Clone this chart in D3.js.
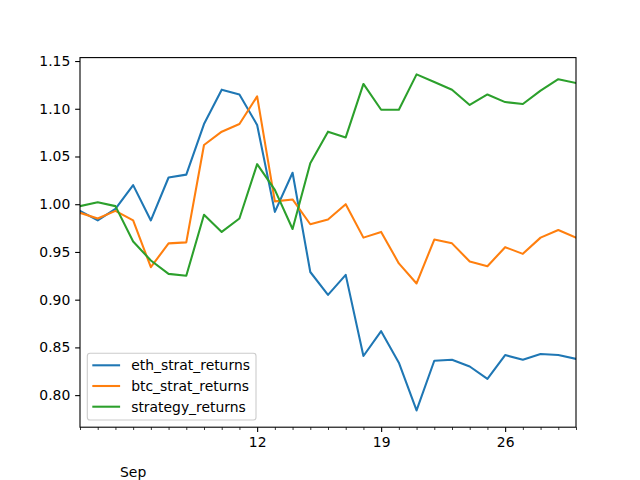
<!DOCTYPE html>
<html>
<head>
<meta charset="utf-8">
<script src="https://cdn.jsdelivr.net/npm/d3@7"></script>
<style>
  html, body { margin: 0; padding: 0; background: #fff; }
  svg { display: block; }
  text { font-family: "DejaVu Sans", sans-serif; }
</style>
</head>
<body>
<svg id="chart" width="640" height="480"></svg>
<script>
// ---- data (Sep 2 .. Sep 30, 2021, daily) ----
const startDate = "2021-09-02";
const dayCount = 29;
const seriesNames = ["eth_strat_returns", "btc_strat_returns", "strategy_returns"];
const ethValues = [0.993, 0.983, 0.995, 1.020, 0.983, 1.028, 1.031, 1.084, 1.120, 1.115,
  1.083, 0.992, 1.033, 0.929, 0.905, 0.926, 0.841, 0.867, 0.834, 0.784,
  0.836, 0.837, 0.830, 0.817, 0.842, 0.837, 0.843, 0.842, 0.838];
const btcValues = [0.991, 0.985, 0.993, 0.983, 0.934, 0.959, 0.960, 1.062, 1.076, 1.084,
  1.113, 1.003, 1.005, 0.979, 0.984, 1.000, 0.965, 0.971, 0.938, 0.917,
  0.963, 0.959, 0.940, 0.935, 0.955, 0.948, 0.965, 0.973, 0.965];
const stratValues = [0.998, 1.002, 0.998, 0.961, 0.941, 0.927, 0.925, 0.989, 0.971, 0.985,
  1.042, 1.015, 0.974, 1.043, 1.076, 1.070, 1.126, 1.099, 1.099, 1.136,
  1.128, 1.120, 1.104, 1.115, 1.107, 1.105, 1.119, 1.131, 1.127];
const yTickValues = [0.80, 0.85, 0.90, 0.95, 1.00, 1.05, 1.10, 1.15];
const xMajorDays = [12, 19, 26];
const monthLabel = "Sep";
const monthLabelDay = 5;
const colors = ["#1f77b4", "#ff7f0e", "#2ca02c"];

// ---- layout ----
const svg = d3.select("#chart");
const L = 80, R = 576, T = 57.6, B = 427.2;

const parse = d3.utcParse("%Y-%m-%d");
const d0 = parse(startDate);
const dates = d3.range(dayCount).map(i => d3.utcDay.offset(d0, i));
const allSeries = [ethValues, btcValues, stratValues];

const x = d3.scaleUtc().domain([dates[0], dates[dates.length - 1]]).range([L, R]);
const allVals = allSeries.flat();
const mn = d3.min(allVals), mx = d3.max(allVals);
const pad = (mx - mn) * 0.05;
const y = d3.scaleLinear().domain([mn - pad, mx + pad]).range([B, T]);

const fontSize = 13.9;

// lines
const line = d3.line().x((d, i) => x(dates[i])).y(d => y(d));
const plot = svg.append("g");
plot.append("clipPath").attr("id", "clip").append("rect")
  .attr("x", L).attr("y", T).attr("width", R - L).attr("height", B - T);
const lg = plot.append("g").attr("clip-path", "url(#clip)");
allSeries.forEach((vals, k) => {
  lg.append("path").datum(vals)
    .attr("d", line)
    .attr("fill", "none")
    .attr("stroke", colors[k])
    .attr("stroke-width", 2.08)
    .attr("stroke-linejoin", "round")
    .attr("stroke-linecap", "square");
});

// y axis
const yAxis = d3.axisLeft(y).tickValues(yTickValues).tickFormat(d3.format(".2f"))
  .tickSize(4.86).tickPadding(4.86);
const yg = svg.append("g").attr("transform", `translate(${L},0)`).call(yAxis);
yg.select(".domain").remove();
yg.selectAll("line").attr("stroke", "#000").attr("stroke-width", 1.1);
yg.selectAll("text").attr("font-size", fontSize).attr("fill", "#000")
  .attr("font-family", "DejaVu Sans");

// x axis: minor ticks every day, major on selected days
const majorDates = xMajorDays.map(d => d3.utcDay.offset(d0, d - 2));
const minorDates = dates.filter(d => !xMajorDays.includes(d.getUTCDate()));
const xMinor = d3.axisBottom(x).tickValues(minorDates).tickFormat("").tickSize(2.78);
const xm = svg.append("g").attr("transform", `translate(0,${B})`).call(xMinor);
xm.select(".domain").remove();
xm.selectAll("line").attr("stroke", "#000").attr("stroke-width", 0.8);

const xMajor = d3.axisBottom(x).tickValues(majorDates)
  .tickFormat(d3.utcFormat("%-d")).tickSize(4.86).tickPadding(4.86);
const xg = svg.append("g").attr("transform", `translate(0,${B})`).call(xMajor);
xg.select(".domain").remove();
xg.selectAll("line").attr("stroke", "#000").attr("stroke-width", 1.1);
xg.selectAll("text").attr("font-size", fontSize).attr("fill", "#000")
  .attr("font-family", "DejaVu Sans");

svg.append("text")
  .attr("x", x(d3.utcDay.offset(d0, monthLabelDay - 2)))
  .attr("y", 477)
  .attr("text-anchor", "middle")
  .attr("font-size", fontSize)
  .attr("fill", "#000")
  .text(monthLabel);

// frame
svg.append("rect").attr("x", L).attr("y", T).attr("width", R - L).attr("height", B - T)
  .attr("fill", "none").attr("stroke", "#000").attr("stroke-width", 1.1);

// legend
const leg = svg.append("g");
leg.append("rect")
  .attr("x", 87.3).attr("y", 353.3).attr("width", 168.7).attr("height", 66.7)
  .attr("rx", 2.8).attr("ry", 2.8)
  .attr("fill", "rgba(255,255,255,0.8)").attr("stroke", "#cccccc").attr("stroke-width", 1.1);
seriesNames.forEach((name, k) => {
  const cy = 365.3 + k * 20.7;
  leg.append("line").attr("x1", 92.3).attr("x2", 120.1).attr("y1", cy).attr("y2", cy)
    .attr("stroke", colors[k]).attr("stroke-width", 2.08);
  leg.append("text").attr("x", 131.2).attr("y", cy).attr("dy", "0.36em")
    .attr("font-size", fontSize).attr("fill", "#000").text(name);
});
</script>
</body>
</html>
